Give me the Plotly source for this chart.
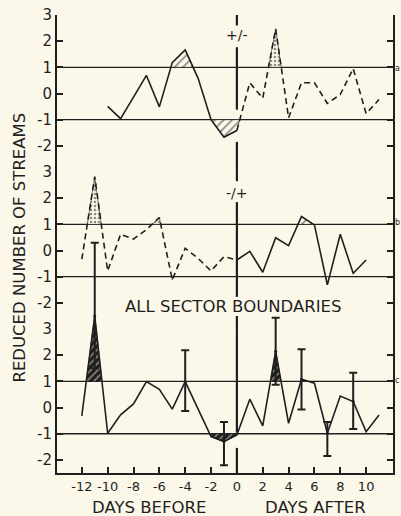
import plotly.graph_objects as go

# ---- data -------------------------------------------------------------
# Reduced number of streams around sector boundaries (days relative to crossing)
days_top = list(range(-10, 12))
vals_top = [-0.49, -0.96, -0.14, 0.69, -0.51, 1.18, 1.67, 0.58, -1.00, -1.67, -1.41,
            0.41, -0.18, 2.47, -0.93, 0.41, 0.41, -0.38, -0.04, 0.95, -0.77, -0.23]

days_mid = list(range(-12, 11))
vals_mid = [-0.33, 2.82, -0.78, 0.62, 0.44, 0.80, 1.26, -1.12, 0.09, -0.30, -0.78, -0.23,
            -0.36, -0.03, -0.83, 0.49, 0.19, 1.30, 0.98, -1.31, 0.62, -0.87, -0.36]

days_all = list(range(-12, 12))
vals_all = [-0.32, 3.50, -0.98, -0.28, 0.14, 0.99, 0.70, -0.06, 0.99, -0.05, -1.11, -1.30,
            -1.05, 0.32, -0.70, 2.15, -0.60, 1.08, 0.93, -0.98, 0.44, 0.23, -0.92, -0.28]

err_days = [-11, -4, -1, 3, 5, 7, 9]
err_plus = [2.80, 1.20, 0.75, 1.28, 1.15, 0.43, 1.10]
err_minus = [2.00, 1.12, 0.90, 1.28, 1.15, 0.87, 1.05]

x_ticks = list(range(-12, 11, 2))
x_tick_text = [str(v) for v in x_ticks]
y_ticks = [-2, -1, 0, 1, 2, 3]
y_tick_text = [str(v) for v in y_ticks]

# boundary marker (day 0) pieces per panel, leaving room for labels
boundary_top = [(3.0, 2.6), (1.77, -0.62), (-1.85, -3.0)]
boundary_mid = [(3.0, 2.65), (1.85, -1.77), (-2.5, -3.0)]
boundary_all = [(3.0, -0.96), (-1.54, -2.5)]

# ---- style ------------------------------------------------------------
INK = "#1f1f1f"
PAPER = "#fbf8ea"
FONT = "DejaVu Sans"
DASH = "6px,4px"

# panel heights in data units (bottom, middle, top) stacked on one frame
H_ALL, H_MID, H_TOP = 5.5, 6.0, 6.0
TOTAL = H_ALL + H_MID + H_TOP


def excursions(xs, ys, level, above):
    """Polygons enclosed between a polyline and a horizontal level."""
    s = 1 if above else -1
    polys, cur = [], None
    for i, (x, y) in enumerate(zip(xs, ys)):
        inside = s * (y - level) > 0
        if i > 0:
            x0, y0 = xs[i - 1], ys[i - 1]
            prev_in = s * (y0 - level) > 0
            if inside != prev_in:
                xc = x0 + (level - y0) * (x - x0) / (y - y0)
                if inside:
                    cur = [(xc, level)]
                else:
                    cur.append((xc, level))
                    polys.append(cur)
                    cur = None
        if inside:
            if cur is None:
                cur = [(x, level)]
            cur.append((x, y))
    if cur:
        cur.append((xs[-1], level))
        polys.append(cur)
    return polys


fig = go.Figure()


def add_fills(xs, ys, yaxis, pattern_for):
    for level, above in ((1, True), (-1, False)):
        for poly in excursions(xs, ys, level, above):
            px = [p[0] for p in poly] + [poly[0][0]]
            py = [p[1] for p in poly] + [poly[0][1]]
            cx = sum(px) / len(px)
            fig.add_trace(go.Scatter(
                x=px, y=py, yaxis=yaxis, mode="lines", fill="toself",
                line=dict(width=0.6, color=INK), fillcolor="rgba(0,0,0,0)",
                fillpattern=pattern_for(cx), hoverinfo="skip", showlegend=False))


hatch_light = dict(shape="/", fgcolor=INK, bgcolor=PAPER, size=6, solidity=0.3)
stipple = dict(shape=".", fgcolor=INK, bgcolor=PAPER, size=4, solidity=0.35)
hatch_dark = dict(shape="/", fgcolor=PAPER, bgcolor=INK, size=5, solidity=0.3)

add_fills(days_top, vals_top, "y3", lambda cx: stipple if cx > 1 else hatch_light)
add_fills(days_mid, vals_mid, "y2", lambda cx: stipple if cx < 0 else hatch_light)
# the all-boundaries curve lives on a full-height axis so its spike and
# error bars can rise above its own panel
add_fills(days_all, vals_all, "y4", lambda cx: hatch_dark)

# top panel: +/- boundaries (solid before, dashed after)
i0 = days_top.index(0)
fig.add_trace(go.Scatter(x=days_top[:i0 + 1], y=vals_top[:i0 + 1], yaxis="y3", mode="lines",
                         line=dict(color=INK, width=1.6), showlegend=False))
fig.add_trace(go.Scatter(x=days_top[i0:], y=vals_top[i0:], yaxis="y3", mode="lines",
                         line=dict(color=INK, width=1.6, dash=DASH), showlegend=False))

# middle panel: -/+ boundaries (dashed before, solid after)
j0 = days_mid.index(0)
fig.add_trace(go.Scatter(x=days_mid[:j0 + 1], y=vals_mid[:j0 + 1], yaxis="y2", mode="lines",
                         line=dict(color=INK, width=1.6, dash=DASH), showlegend=False))
fig.add_trace(go.Scatter(x=days_mid[j0:], y=vals_mid[j0:], yaxis="y2", mode="lines",
                         line=dict(color=INK, width=1.6), showlegend=False))

# bottom panel: all sector boundaries with error bars
fig.add_trace(go.Scatter(x=days_all, y=vals_all, yaxis="y4", mode="lines",
                         line=dict(color=INK, width=1.6), showlegend=False))
err_vals = [vals_all[days_all.index(d)] for d in err_days]
fig.add_trace(go.Scatter(
    x=err_days, y=err_vals, yaxis="y4", mode="markers",
    marker=dict(size=3, color=INK),
    error_y=dict(type="data", symmetric=False, array=err_plus, arrayminus=err_minus,
                 color=INK, thickness=2, width=4),
    showlegend=False))

# reference levels at +1 and -1 in every panel
shapes = []
for yref in ("y", "y2", "y3"):
    for lvl in (1, -1):
        shapes.append(dict(type="line", xref="paper", x0=0, x1=1, yref=yref, y0=lvl, y1=lvl,
                           line=dict(color=INK, width=1.3), layer="below"))
for yref, pieces in (("y3", boundary_top), ("y2", boundary_mid), ("y", boundary_all)):
    for a, b in pieces:
        shapes.append(dict(type="line", xref="x", x0=0, x1=0, yref=yref, y0=a, y1=b,
                           line=dict(color=INK, width=2.2)))

annotations = [
    dict(text="+/-", x=0, y=2.24, xref="x", yref="y3", showarrow=False,
         font=dict(family=FONT, size=14, color=INK)),
    dict(text="-/+", x=0, y=2.2, xref="x", yref="y2", showarrow=False,
         font=dict(family=FONT, size=14, color=INK)),
    dict(text="ALL SECTOR BOUNDARIES", x=-0.3, y=-2.15, xref="x", yref="y2", showarrow=False,
         font=dict(family=FONT, size=16.5, color=INK)),
    dict(text="REDUCED NUMBER OF STREAMS", x=-0.112, y=0.493, xref="paper", yref="paper",
         xanchor="center", yanchor="middle", textangle=-90, showarrow=False,
         font=dict(family=FONT, size=16.5, color=INK)),
    dict(text="DAYS BEFORE", x=-6.8, y=0, yshift=-34, xref="x", yref="paper",
         xanchor="center", yanchor="middle", showarrow=False,
         font=dict(family=FONT, size=16.5, color=INK)),
    dict(text="DAYS AFTER", x=6.1, y=0, yshift=-34, xref="x", yref="paper",
         xanchor="center", yanchor="middle", showarrow=False,
         font=dict(family=FONT, size=16.5, color=INK)),
]
for txt, yref, yv in (("a", "y3", 0.97), ("b", "y2", 1.09), ("c", "y", 1.05)):
    annotations.append(dict(text=txt, x=1, xshift=1, xanchor="left", y=yv, xref="paper",
                            yref=yref, showarrow=False, borderpad=0,
                            font=dict(family=FONT, size=8, color=INK)))

yaxis_common = dict(
    anchor="x", tickvals=y_ticks, ticktext=y_tick_text, ticks="inside", ticklen=6,
    tickwidth=1.5, tickcolor=INK, showline=True, linewidth=2, linecolor=INK,
    mirror="ticks", showgrid=False, zeroline=False,
    tickfont=dict(family=FONT, size=15, color=INK))

fig.update_layout(
    width=401, height=516, autosize=False,
    margin=dict(l=57, r=6, t=15, b=43),
    paper_bgcolor=PAPER, plot_bgcolor="rgba(0,0,0,0)",
    showlegend=False,
    xaxis=dict(range=[-13.92, 12.08], anchor="y", tickvals=x_ticks, ticktext=x_tick_text,
               ticks="inside", ticklen=6, tickwidth=1.5, tickcolor=INK,
               showline=True, linewidth=2, linecolor=INK, showgrid=False, zeroline=False,
               tickfont=dict(family=FONT, size=13, color=INK)),
    xaxis2=dict(range=[-13.92, 12.08], overlaying="x", anchor="y3", side="top",
                tickvals=x_ticks, ticks="inside", ticklen=5, tickwidth=1.5, tickcolor=INK,
                showticklabels=False, showline=True, linewidth=2, linecolor=INK,
                showgrid=False, zeroline=False),
    yaxis=dict(domain=[0, H_ALL / TOTAL], range=[-2.5, 3], **yaxis_common),
    yaxis2=dict(domain=[H_ALL / TOTAL, (H_ALL + H_MID) / TOTAL], range=[-3, 3], **yaxis_common),
    yaxis3=dict(domain=[(H_ALL + H_MID) / TOTAL, 1], range=[-3, 3], **yaxis_common),
    yaxis4=dict(domain=[0, 1], range=[-2.5, TOTAL - 2.5], anchor="x", visible=False,
                showgrid=False, zeroline=False),
    shapes=shapes,
    annotations=annotations,
)

fig.write_html("out.html")
